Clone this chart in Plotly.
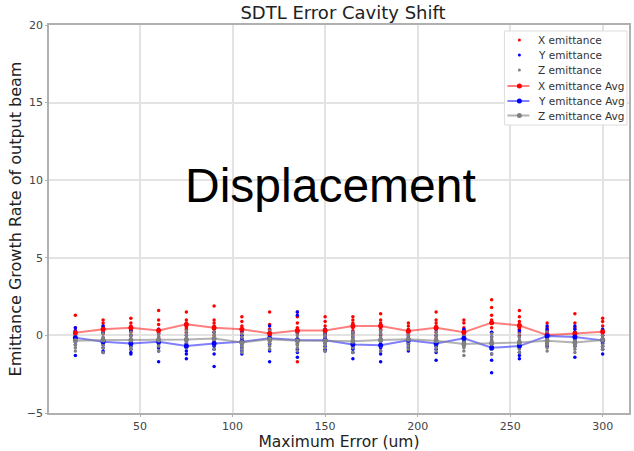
import plotly.graph_objects as go

max_error = [15, 30, 45, 60, 75, 90, 105, 120, 135, 150, 165, 180, 195, 210, 225, 240, 255, 270, 285, 300]

x_samples = [
    [1.3, 0.5, 0.3, 0.2, 0.1, 0.0, -0.1, -0.3],
    [1.0, 0.8, 0.6, 0.5, 0.4, 0.3, 0.1, -0.2],
    [1.1, 0.8, 0.6, 0.5, 0.4, 0.3, 0.2, 0.0],
    [1.6, 1.0, 0.7, 0.4, 0.3, 0.1, -0.1, -0.3],
    [1.5, 1.0, 0.8, 0.7, 0.6, 0.5, 0.4, 0.2],
    [1.9, 1.0, 0.8, 0.6, 0.4, 0.2, 0.0, -0.4],
    [1.2, 0.9, 0.6, 0.4, 0.3, 0.2, 0.0, -0.3],
    [1.5, 0.7, 0.4, 0.2, 0.0, -0.1, -0.3, -0.5],
    [1.5, 1.2, 0.8, 0.5, 0.3, 0.1, -0.4, -1.7],
    [1.2, 0.9, 0.6, 0.4, 0.3, 0.1, 0.0, -0.2],
    [1.2, 1.0, 0.8, 0.7, 0.6, 0.5, 0.3, 0.1],
    [1.4, 1.0, 0.8, 0.7, 0.6, 0.4, 0.3, 0.0],
    [0.8, 0.6, 0.4, 0.3, 0.2, 0.1, 0.0, -0.2],
    [1.5, 1.0, 0.8, 0.6, 0.4, 0.2, 0.0, -0.2],
    [1.0, 0.8, 0.5, 0.3, 0.2, 0.0, -0.2, -0.4],
    [2.3, 1.8, 1.3, 1.0, 0.8, 0.5, 0.2, -0.3],
    [1.6, 1.2, 0.9, 0.7, 0.5, 0.4, 0.2, 0.0],
    [0.8, 0.5, 0.3, 0.1, 0.0, -0.2, -0.4, -0.6],
    [1.4, 0.8, 0.5, 0.2, 0.0, -0.2, -0.4, -0.6],
    [1.1, 0.9, 0.6, 0.3, 0.2, 0.0, -0.2, -0.4],
]

y_samples = [
    [0.5, 0.3, 0.1, -0.1, -0.2, -0.4, -0.6, -1.3],
    [0.6, 0.2, -0.2, -0.4, -0.6, -0.8, -1.0, -1.1],
    [0.3, 0.0, -0.3, -0.5, -0.7, -0.9, -1.1, -1.2],
    [0.4, 0.1, -0.2, -0.4, -0.6, -0.8, -1.0, -1.7],
    [0.0, -0.3, -0.5, -0.7, -0.8, -1.0, -1.2, -1.5],
    [0.5, 0.2, -0.2, -0.5, -0.7, -0.9, -1.2, -2.0],
    [0.3, 0.0, -0.2, -0.4, -0.6, -0.8, -1.0, -1.2],
    [0.6, 0.3, 0.0, -0.2, -0.4, -0.6, -1.0, -1.7],
    [1.5, 1.3, 0.2, -0.3, -0.6, -0.9, -1.1, -1.4],
    [0.4, 0.1, -0.1, -0.3, -0.5, -0.7, -0.9, -1.0],
    [0.2, -0.1, -0.4, -0.6, -0.8, -0.9, -1.1, -1.5],
    [0.1, -0.2, -0.4, -0.6, -0.8, -1.0, -1.2, -1.7],
    [0.3, 0.1, -0.1, -0.3, -0.5, -0.6, -0.8, -1.0],
    [0.4, 0.0, -0.3, -0.5, -0.7, -0.9, -1.1, -1.6],
    [0.4, 0.3, 0.1, -0.1, -0.3, -0.4, -0.5, -0.6],
    [0.2, -0.1, -0.4, -0.7, -0.9, -1.2, -1.6, -2.4],
    [0.3, -0.1, -0.4, -0.6, -0.8, -1.1, -1.3, -1.5],
    [0.6, 0.4, 0.2, 0.0, -0.1, -0.3, -0.5, -0.7],
    [0.6, 0.4, 0.2, -0.1, -0.3, -0.5, -0.7, -1.4],
    [0.4, 0.2, 0.0, -0.3, -0.5, -0.7, -0.9, -1.2],
]

z_samples = [
    [0.2, 0.0, -0.2, -0.3, -0.4, -0.6, -0.8, -1.0],
    [0.3, 0.1, -0.1, -0.3, -0.4, -0.6, -0.8, -1.1],
    [0.2, 0.0, -0.2, -0.3, -0.5, -0.6, -0.8, -0.9],
    [0.3, 0.1, -0.1, -0.3, -0.4, -0.5, -0.7, -1.0],
    [0.3, 0.1, 0.0, -0.2, -0.4, -0.5, -0.6, -0.8],
    [0.4, 0.2, 0.0, -0.2, -0.3, -0.5, -0.6, -0.9],
    [0.1, -0.1, -0.3, -0.4, -0.5, -0.7, -0.9, -1.1],
    [0.3, 0.1, -0.1, -0.2, -0.4, -0.5, -0.7, -0.9],
    [0.2, 0.0, -0.2, -0.3, -0.5, -0.6, -0.8, -1.0],
    [0.2, 0.0, -0.2, -0.3, -0.5, -0.6, -0.8, -1.0],
    [0.2, 0.0, -0.2, -0.3, -0.5, -0.6, -0.8, -1.1],
    [0.3, 0.1, -0.1, -0.3, -0.4, -0.6, -0.7, -1.0],
    [0.3, 0.1, 0.0, -0.2, -0.4, -0.5, -0.7, -0.9],
    [0.2, 0.0, -0.2, -0.3, -0.5, -0.6, -0.8, -1.0],
    [0.0, -0.2, -0.4, -0.5, -0.7, -0.8, -1.0, -1.3],
    [0.1, -0.1, -0.3, -0.5, -0.6, -0.8, -0.9, -1.2],
    [0.1, -0.1, -0.3, -0.4, -0.6, -0.7, -0.9, -1.1],
    [0.2, 0.0, -0.2, -0.3, -0.5, -0.6, -0.8, -1.0],
    [0.1, -0.1, -0.3, -0.4, -0.6, -0.7, -0.9, -1.1],
    [0.2, 0.0, -0.2, -0.3, -0.4, -0.6, -0.7, -0.9],
]

x_avg = [0.17, 0.39, 0.49, 0.32, 0.71, 0.49, 0.39, 0.13, 0.32, 0.32, 0.60, 0.60, 0.28, 0.49, 0.21, 0.82, 0.64, 0.02, 0.13, 0.24]
y_avg = [-0.15, -0.41, -0.52, -0.41, -0.69, -0.52, -0.41, -0.19, -0.30, -0.32, -0.58, -0.64, -0.32, -0.52, -0.19, -0.80, -0.69, -0.04, -0.11, -0.32]
z_avg = [-0.35, -0.30, -0.30, -0.30, -0.26, -0.20, -0.45, -0.25, -0.35, -0.35, -0.37, -0.30, -0.25, -0.35, -0.55, -0.50, -0.45, -0.35, -0.45, -0.30]

legend_labels = ["X emittance", "Y emittance", "Z emittance",
                 "X emittance Avg", "Y emittance Avg", "Z emittance Avg"]

FONT = "DejaVu Sans"
W, H = 634, 451
ML, MR, MT, MB = 49, 3, 25, 38
PW, PH = W - ML - MR, H - MT - MB

RED, BLUE, GRAY = "#ff0000", "#0000ff", "#808080"
RED_L, BLUE_L, GRAY_L = "rgba(255,0,0,0.5)", "rgba(0,0,255,0.5)", "rgba(128,128,128,0.6)"


def px(xp):
    return (xp - ML) / PW


def py(yp):
    return 1 - (yp - MT) / PH


def flatten(samples):
    xs, ys = [], []
    for xv, vals in zip(max_error, samples):
        for v in vals:
            xs.append(xv)
            ys.append(v)
    return xs, ys


fig = go.Figure()

for name, samples, color in [(legend_labels[0], x_samples, RED),
                              (legend_labels[1], y_samples, BLUE),
                              (legend_labels[2], z_samples, GRAY)]:
    xs, ys = flatten(samples)
    fig.add_trace(go.Scatter(x=xs, y=ys, mode="markers", name=name, showlegend=False,
                             marker=dict(color=color, size=3.5, line=dict(width=0))))

for name, avg, line_color, mcolor in [(legend_labels[3], x_avg, RED_L, RED),
                                      (legend_labels[4], y_avg, BLUE_L, BLUE),
                                      (legend_labels[5], z_avg, GRAY_L, GRAY)]:
    fig.add_trace(go.Scatter(x=max_error, y=avg, mode="lines+markers", name=name, showlegend=False,
                             line=dict(color=line_color, width=2),
                             marker=dict(color=mcolor, size=5, line=dict(width=0))))

# Big overlay label
fig.add_annotation(x=px(331), y=py(185), xref="paper", yref="paper", text="Displacement",
                   showarrow=False, xanchor="center", yanchor="middle",
                   font=dict(family="Liberation Sans", size=48, color="black"))

# Compact matplotlib-style legend drawn by hand
shapes = [dict(type="rect", xref="paper", yref="paper",
               x0=px(506), x1=px(629), y0=py(125), y1=py(31),
               fillcolor="rgba(255,255,255,0.9)", line=dict(color="#dddddd", width=1), layer="above")]
row_y = [40, 55, 70, 86, 101, 115.5]
styles = [(None, RED), (None, BLUE), (None, GRAY), (RED_L, RED), (BLUE_L, BLUE), (GRAY_L, GRAY)]
for label, yr, (lc, mc) in zip(legend_labels, row_y, styles):
    if lc is not None:
        shapes.append(dict(type="line", xref="paper", yref="paper",
                           x0=px(509), x1=px(531), y0=py(yr), y1=py(yr),
                           line=dict(color=lc, width=2), layer="above"))
        r = 2.5
    else:
        r = 1.5
    shapes.append(dict(type="circle", xref="paper", yref="paper",
                       xsizemode="pixel", ysizemode="pixel",
                       xanchor=px(521), yanchor=py(yr), x0=-r, x1=r, y0=-r, y1=r,
                       fillcolor=mc, line=dict(width=0), layer="above"))
    fig.add_annotation(x=px(538), y=py(yr), xref="paper", yref="paper", text=label,
                       showarrow=False, xanchor="left", yanchor="middle",
                       font=dict(family=FONT, size=10.5, color="#333333"))

axis_common = dict(
    showgrid=True, gridcolor="#e3e3e3", gridwidth=1.5,
    showline=True, linecolor="#b0b0b0", linewidth=1.5, mirror=True,
    ticks="outside", ticklen=2, tickcolor="#b0b0b0",
    tickfont=dict(family=FONT, size=11, color="#444444"),
    zeroline=False,
)

fig.update_layout(
    width=W, height=H,
    margin=dict(l=ML, r=MR, t=MT, b=MB),
    plot_bgcolor="white", paper_bgcolor="white",
    shapes=shapes,
    showlegend=False,
    title=dict(text="SDTL Error Cavity Shift", x=343 / W, xanchor="center", y=1 - 13 / H, yanchor="middle",
               font=dict(family=FONT, size=18, color="#222222")),
    xaxis=dict(range=[0.75, 314.25], tickvals=[50, 100, 150, 200, 250, 300],
               title=dict(text="Maximum Error (um)", standoff=3,
                          font=dict(family=FONT, size=15.5, color="#222222")),
               **axis_common),
    yaxis=dict(range=[-5, 20], tickvals=[-5, 0, 5, 10, 15, 20],
               title=dict(text="Emittance Growth Rate of output beam", standoff=1,
                          font=dict(family=FONT, size=16, color="#222222")),
               **axis_common),
)

fig.write_html("out.html")
